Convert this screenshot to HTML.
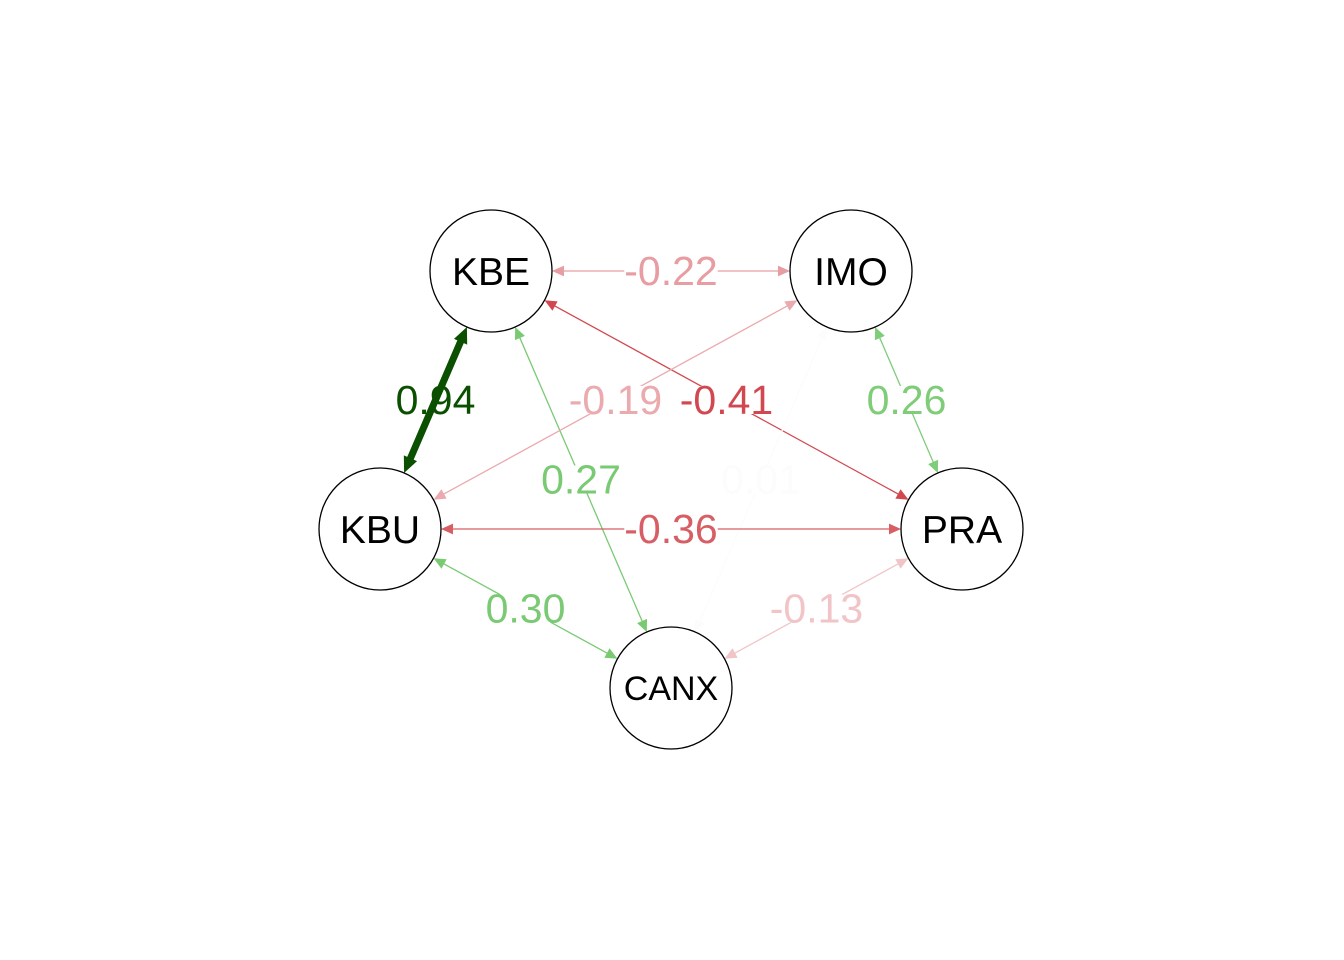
<!DOCTYPE html>
<html><head><meta charset="utf-8"><style>
html,body{margin:0;padding:0;background:#fff;}
svg{display:block;font-family:"Liberation Sans",Arial,sans-serif;}
</style></head><body>
<svg id="chart" width="1344" height="960" viewBox="0 0 1344 960" xmlns="http://www.w3.org/2000/svg">
<rect width="1344" height="960" fill="#fff"/>
<g id="edges"></g>
<g id="labels"></g>
<g id="nodes"></g>
</svg>
<script>
const nodeNames = ["KBE","IMO","KBU","PRA","CANX"];
const edgeFrom = ["KBE","KBE","KBE","KBE","IMO","IMO","IMO","KBU","KBU","PRA"];
const edgeTo   = ["IMO","PRA","KBU","CANX","KBU","PRA","CANX","PRA","CANX","CANX"];
const edgeWeights = [-0.22,-0.41,0.94,0.27,-0.19,0.26,0.01,-0.36,0.30,-0.13];

const layout = {KBE:[491,271],IMO:[851,271],KBU:[380,529],PRA:[962,529],CANX:[671,688]};
const R = 61;
const NS = "http://www.w3.org/2000/svg";
function mk(tag, attrs, parent){const e=document.createElementNS(NS,tag);for(const k in attrs)e.setAttribute(k,attrs[k]);parent.appendChild(e);return e;}
function mix(a,b,t){return a.map((v,i)=>Math.round(v+(b[i]-v)*t));}
function color(w){
  const a=Math.abs(w);
  if(w<0){const c=mix([255,255,255],[210,72,80],Math.min(1,a/0.41));return `rgb(${c})`;}
  if(a<=0.3){const c=mix([255,255,255],[122,202,116],Math.min(1,a/0.27));return `rgb(${c})`;}
  const c=mix([122,202,116],[10,80,0],Math.min(1,(a-0.3)/0.64));return `rgb(${c})`;
}
function width(w){const a=Math.abs(w);return a>0.5?1.3+(a-0.5)*13:1.3;}
const eg=document.getElementById('edges'), lg=document.getElementById('labels'), ng=document.getElementById('nodes');
function arrow(x,y,ux,uy,sz,col,parent){
  const bx=x-ux*sz, by=y-uy*sz, px=-uy*sz*0.45, py=ux*sz*0.45;
  const p=mk('polygon',{points:`${x},${y} ${bx+px},${by+py} ${bx-px},${by-py}`,fill:col},parent);
  
  
}
edgeWeights.forEach((w,i)=>{
  const [x1,y1]=layout[edgeFrom[i]], [x2,y2]=layout[edgeTo[i]];
  const dx=x2-x1, dy=y2-y1, L=Math.hypot(dx,dy), ux=dx/L, uy=dy/L;
  const col=color(w), lw=width(w), sz=lw>3?16:12;
  const sx=x1+ux*R, sy=y1+uy*R, ex=x2-ux*R, ey=y2-uy*R;
  const g=mk('g',{},eg);
  
  
  mk('line',{x1:sx+ux*sz*0.8,y1:sy+uy*sz*0.8,x2:ex-ux*sz*0.8,y2:ey-uy*sz*0.8,stroke:col,'stroke-width':lw},g);
  arrow(ex,ey,ux,uy,sz,col,g);
  arrow(sx,sy,-ux,-uy,sz,col,g);
  const mx=(x1+x2)/2, my=(y1+y2)/2;
  const lab=w.toFixed(2);
  const t=mk('text',{x:mx,y:my+14,'text-anchor':'middle','font-size':41,fill:col},lg);
  t.textContent=lab;
  
  
  if(lw<3){
    const bb=t.getBBox();
    const r=mk('rect',{x:bb.x,y:my-14,width:bb.width,height:28,fill:'#fff'},lg);
    lg.insertBefore(r,t);
  }
});
nodeNames.forEach(n=>{
  const [x,y]=layout[n];
  const g=mk('g',{},ng);
  
  
  mk('circle',{cx:x,cy:y,r:R,fill:'#fff',stroke:'#000','stroke-width':1.3},g);
  const fs=n.length>3?34:39;
  const t=mk('text',{x:x,y:y+fs*0.36,'text-anchor':'middle','font-size':fs,fill:'#000'},g);
  t.textContent=n;
});
</script>
</body></html>
